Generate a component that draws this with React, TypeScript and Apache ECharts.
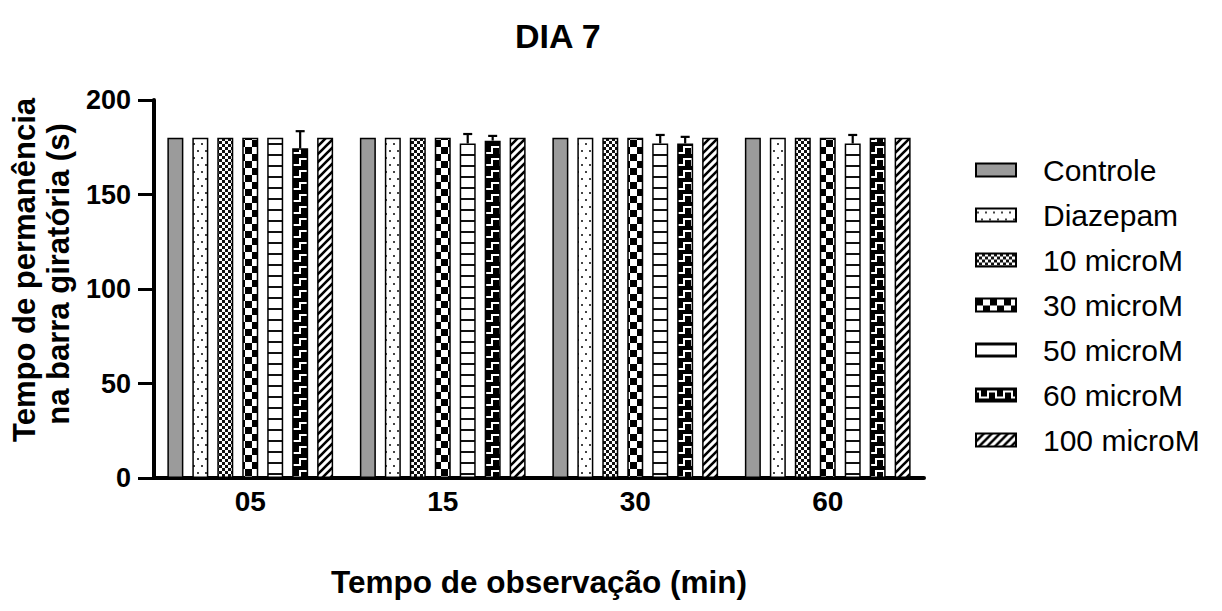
import React, { useEffect, useRef } from "react";
import * as echarts from "echarts";

const categories = ["05", "15", "30", "60"];
const seriesNames = ["Controle", "Diazepam", "10 microM", "30 microM", "50 microM", "60 microM", "100 microM"];
const controle = [180, 180, 180, 180];
const diazepam = [180, 180, 180, 180];
const micro10 = [180, 180, 180, 180];
const micro30 = [180, 180, 180, 180];
const micro50 = [180, 177, 177, 177];
const micro60 = [174.5, 178.5, 177, 180];
const micro100 = [180, 180, 180, 180];
const err50 = [0, 5, 4.5, 4.5];
const err60 = [9, 2.5, 3.5, 0];
const yTicks = { min: 0, max: 200, interval: 50 };

const FONT = "'Liberation Sans', Arial, sans-serif";
const BAR_W = 16;
const GAP_RATIO = 0.56;

function tile(w: number, h: number, draw: (c: CanvasRenderingContext2D) => void) {
  const cv = document.createElement("canvas");
  cv.width = w;
  cv.height = h;
  const c = cv.getContext("2d")!;
  draw(c);
  return { image: cv, repeat: "repeat" } as any;
}

function makePatterns() {
  const dots = tile(8, 14, (c) => {
    c.fillStyle = "#fff";
    c.fillRect(0, 0, 8, 14);
    c.fillStyle = "#444";
    c.fillRect(1, 3, 2, 2);
    c.fillRect(5, 10, 2, 2);
  });
  const fine = tile(6, 6, (c) => {
    c.fillStyle = "#fff";
    c.fillRect(0, 0, 6, 6);
    c.fillStyle = "#111";
    c.fillRect(0, 0, 3, 3);
    c.fillRect(3, 3, 3, 3);
  });
  const checker = tile(14, 14, (c) => {
    c.fillStyle = "#fff";
    c.fillRect(0, 0, 14, 14);
    c.fillStyle = "#000";
    c.fillRect(0, 0, 7, 7);
    c.fillRect(7, 7, 7, 7);
  });
  const hlines = tile(4, 11, (c) => {
    c.fillStyle = "#fff";
    c.fillRect(0, 0, 4, 11);
    c.fillStyle = "#111";
    c.fillRect(0, 0, 4, 2);
  });
  const maze = tile(16, 12, (c) => {
    c.fillStyle = "#000";
    c.fillRect(0, 0, 16, 12);
    c.strokeStyle = "#fff";
    c.lineWidth = 2;
    c.beginPath();
    c.moveTo(0, 3);
    c.lineTo(4, 3);
    c.lineTo(4, 9);
    c.lineTo(12, 9);
    c.lineTo(12, 3);
    c.lineTo(16, 3);
    c.stroke();
  });
  const diag = tile(8, 8, (c) => {
    c.fillStyle = "#fff";
    c.fillRect(0, 0, 8, 8);
    c.strokeStyle = "#000";
    c.lineWidth = 2.6;
    c.beginPath();
    c.moveTo(-1, 9);
    c.lineTo(9, -1);
    c.moveTo(-5, 5);
    c.lineTo(5, -5);
    c.moveTo(3, 13);
    c.lineTo(13, 3);
    c.stroke();
  });
  return ["#9b9b9b", dots, fine, checker, hlines, maze, diag];
}

export default function App() {
  const ref = useRef<HTMLDivElement>(null);
  useEffect(() => {
    if (!ref.current) return;
    const chart = echarts.init(ref.current, undefined, { renderer: "svg" });
    const fills = makePatterns();
    const values = [controle, diazepam, micro10, micro30, micro50, micro60, micro100];
    const pitch = BAR_W * (1 + GAP_RATIO);

    const errData: number[][] = [];
    [[4, micro50, err50], [5, micro60, err60]].forEach(([si, vals, errs]: any) => {
      vals.forEach((v: number, i: number) => {
        if (errs[i] > 0) errData.push([i, v, errs[i], si]);
      });
    });

    const barSeries = seriesNames.map((name, i) => ({
      name,
      type: "bar",
      data: values[i],
      barWidth: BAR_W,
      barGap: GAP_RATIO * 100 + "%",
      itemStyle: { color: fills[i], borderColor: "#000", borderWidth: 1.5 },
      emphasis: { disabled: true },
      z: 2,
    }));

    chart.setOption({
      animation: false,
      backgroundColor: "#fff",
      title: {
        text: "DIA 7",
        left: 510,
        top: 14,
        textStyle: { fontFamily: FONT, fontSize: 34, fontWeight: "bold", color: "#000" },
      },
      legend: {
        data: seriesNames,
        orient: "vertical",
        left: 970,
        top: 150,
        itemWidth: 40,
        itemHeight: 13,
        itemGap: 15,
        icon: "rect",
        textStyle: { fontFamily: FONT, fontSize: 30, color: "#000", padding: [0, 0, 0, 22] },
      },
      grid: { left: 154, right: 298, top: 100, bottom: 133, containLabel: false },
      xAxis: {
        type: "category",
        data: categories,
        name: "Tempo de observação (min)",
        nameLocation: "middle",
        nameGap: 88,
        nameTextStyle: { fontFamily: FONT, fontSize: 31.5, fontWeight: "bold", color: "#000" },
        axisLine: { lineStyle: { color: "#000", width: 4 } },
        axisTick: { show: false },
        axisLabel: { fontFamily: FONT, fontSize: 28, fontWeight: "bold", color: "#000", margin: 9 },
      },
      yAxis: {
        type: "value",
        min: yTicks.min,
        max: yTicks.max,
        interval: yTicks.interval,
        axisLine: { show: true, lineStyle: { color: "#000", width: 4 } },
        axisTick: { show: true, length: 16, lineStyle: { color: "#000", width: 3 } },
        axisLabel: { fontFamily: FONT, fontSize: 27, fontWeight: "bold", color: "#000", margin: 23 },
        splitLine: { show: false },
      },
      graphic: [
        {
          type: "text",
          x: 24,
          y: 270,
          rotation: Math.PI / 2,
          style: {
            text: "Tempo de permanência",
            fontFamily: FONT,
            fontSize: 31,
            fontWeight: "bold",
            fill: "#000",
            align: "center",
            verticalAlign: "middle",
          },
        },
        {
          type: "text",
          x: 58,
          y: 274,
          rotation: Math.PI / 2,
          style: {
            text: "na barra giratória (s)",
            fontFamily: FONT,
            fontSize: 31,
            fontWeight: "bold",
            fill: "#000",
            align: "center",
            verticalAlign: "middle",
          },
        },
      ],
      series: [
        ...barSeries,
        {
          name: "errors",
          type: "custom",
          data: errData,
          z: 3,
          silent: true,
          encode: { x: 0, y: 1 },
          renderItem: (params: any, api: any) => {
            const cat = api.value(0);
            const v = api.value(1);
            const e = api.value(2);
            const si = api.value(3);
            const base = api.coord([cat, v]);
            const top = api.coord([cat, v + e]);
            const x = base[0] + (si - 3) * pitch;
            const style = { stroke: "#000", lineWidth: 2.2 };
            return {
              type: "group",
              children: [
                { type: "line", shape: { x1: x, y1: base[1], x2: x, y2: top[1] }, style },
                { type: "line", shape: { x1: x - 4.5, y1: top[1], x2: x + 4.5, y2: top[1] }, style },
              ],
            };
          },
        },
      ],
    });
    return () => chart.dispose();
  }, []);
  return (
    <div
      ref={ref}
      style={{ position: "fixed", left: 0, top: 0, width: 1222, height: 611, background: "#fff" }}
    />
  );
}
